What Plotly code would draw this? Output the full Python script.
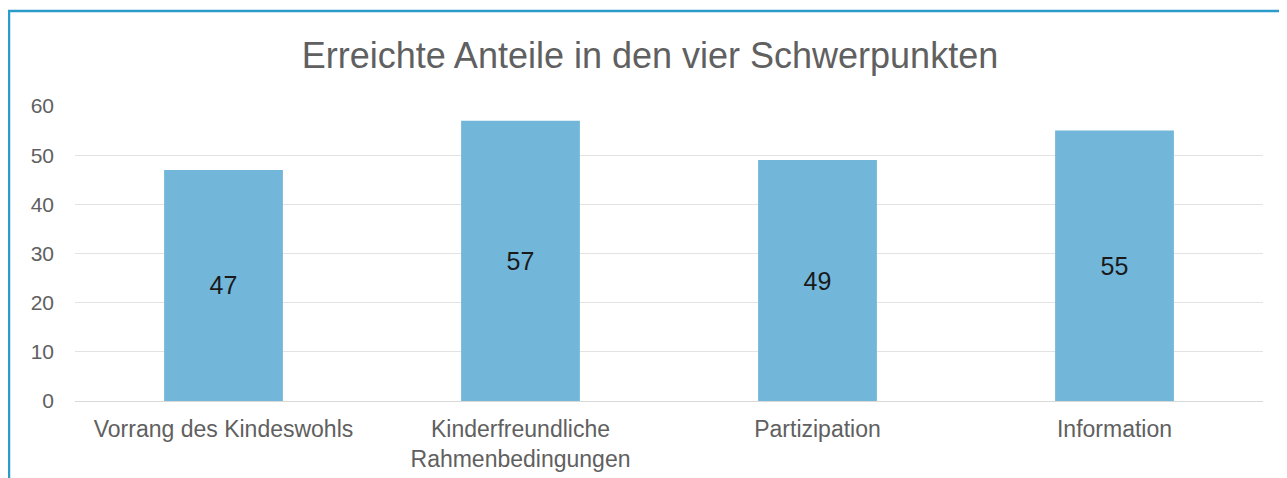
import plotly.graph_objects as go

categories = ["Vorrang des Kindeswohls", "Kinderfreundliche<br>Rahmenbedingungen", "Partizipation", "Information"]
values = [47, 57, 49, 55]
yticks = [0, 10, 20, 30, 40, 50, 60]

# page has an 8px body margin; work in figure coordinates (reference px - 8)
OFF = 8
W, H = 1287 - OFF, 478 - OFF
L, R, T, B = 75 - OFF, 24, 106 - OFF, 77
pw, ph = W - L - R, H - T - B

def px(xref):
    return (xref - OFF - L) / pw

def py(yref):
    return (H - B - (yref - OFF)) / ph

fig = go.Figure(go.Bar(
    x=categories, y=values, text=[str(v) for v in values],
    textposition="inside", insidetextanchor="middle",
    textfont=dict(family="Liberation Sans", size=25, color="#1a1a1a"),
    marker=dict(color="#72b7da", line=dict(width=0)),
    width=0.4, cliponaxis=False,
))

fig.update_layout(
    width=W, height=H,
    margin=dict(l=L, r=R, t=T, b=B, autoexpand=False),
    paper_bgcolor="white", plot_bgcolor="white",
    showlegend=False,
    title=dict(text="Erreichte Anteile in den vier Schwerpunkten",
               xref="container", x=(650 - OFF) / W, xanchor="center",
               yref="container", y=1 - (55 - OFF) / H, yanchor="middle",
               font=dict(family="Liberation Sans", size=36, color="#606060")),
    xaxis=dict(showgrid=False, showline=False, ticks="", automargin=False,
               tickfont=dict(family="Liberation Sans", size=23, color="#606060"),
               ticklabelstandoff=12),
    yaxis=dict(range=[0, 60], tickvals=yticks, showgrid=True, gridcolor="#e3e3e3", gridwidth=1,
               zeroline=True, zerolinecolor="#d9d9d9", zerolinewidth=1,
               showline=False, ticks="", automargin=False,
               tickfont=dict(family="Liberation Sans", size=21, color="#606060"),
               ticklabelstandoff=20),
    shapes=[
        dict(type="line", xref="paper", yref="paper", x0=px(8), x1=px(1295), y0=py(11), y1=py(11),
             line=dict(color="#2b9bc9", width=2.5)),
        dict(type="line", xref="paper", yref="paper", x0=px(9), x1=px(9), y0=py(11), y1=py(490),
             line=dict(color="#2b9bc9", width=2.5)),
        dict(type="line", xref="paper", yref="paper", x0=px(1280), x1=px(1280), y0=py(12), y1=py(490),
             line=dict(color="#efedef", width=1)),
    ],
)

fig.write_html("out.html")
